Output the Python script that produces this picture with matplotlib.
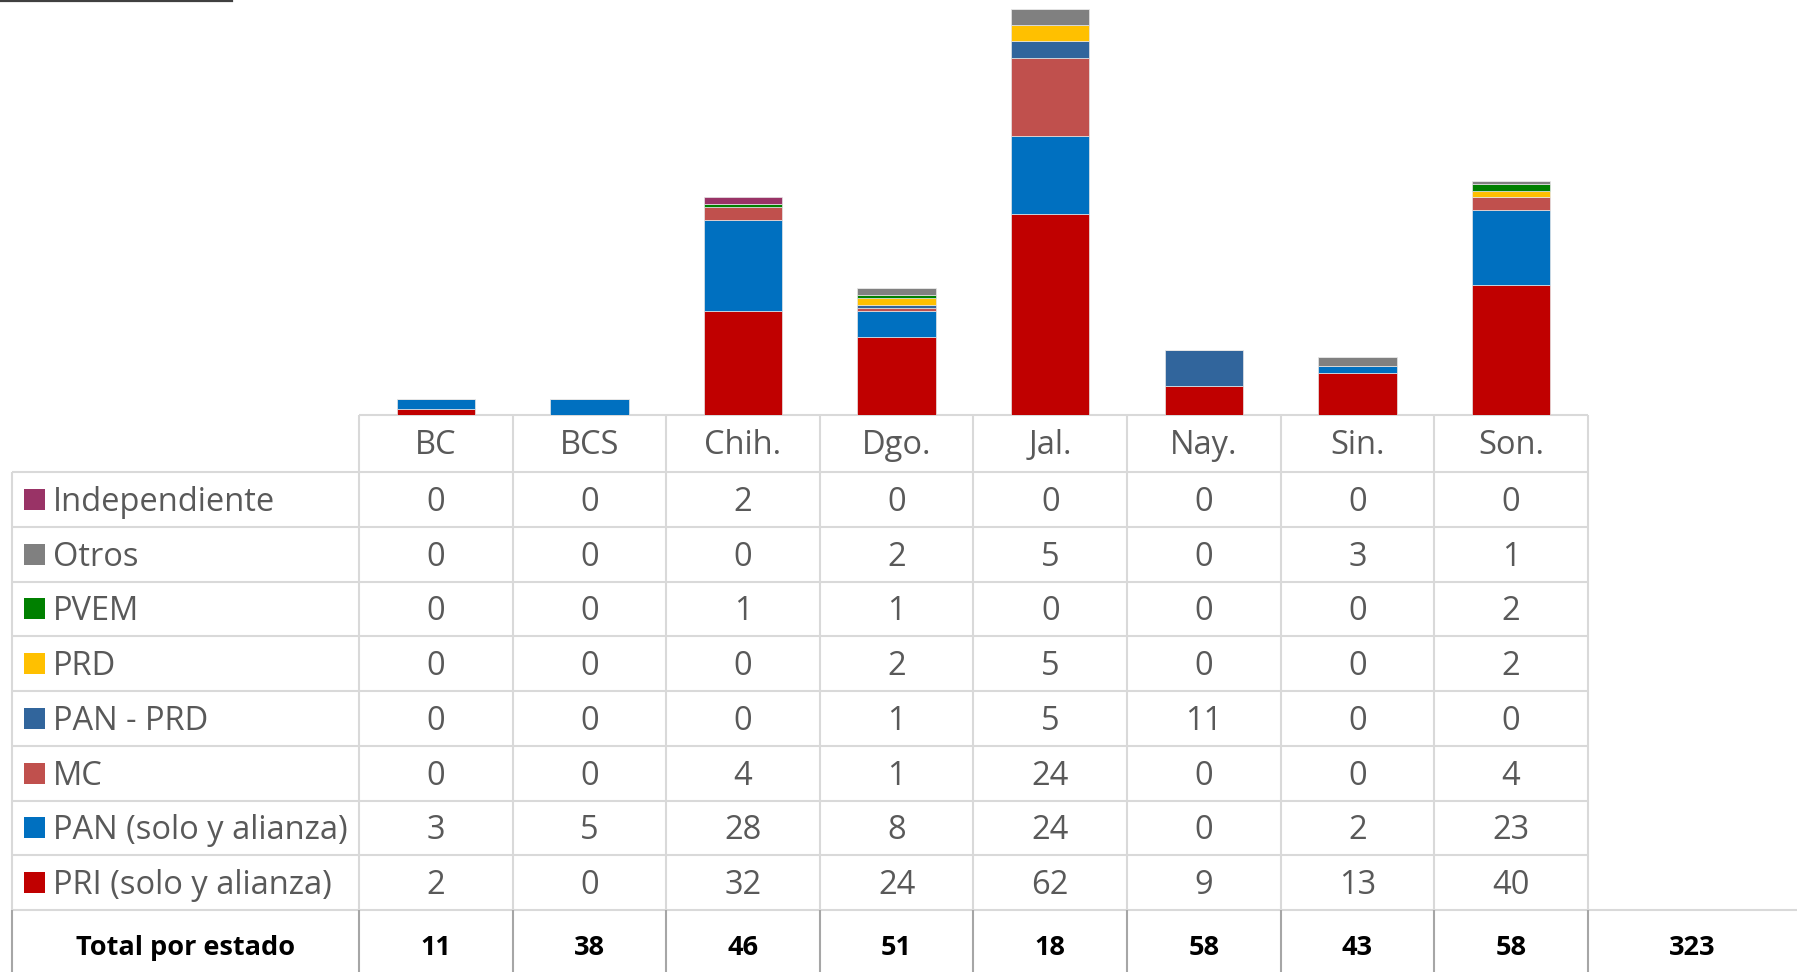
import matplotlib
matplotlib.use("Agg")
import matplotlib.pyplot as plt
import numpy as np

# ── data ──────────────────────────────────────────────────────────────────────
states = ["BC", "BCS", "Chih.", "Dgo.", "Jal.", "Nay.", "Sin.", "Son."]

# series in stacking order (bottom → top)
series = ["PRI (solo y alianza)", "PAN (solo y alianza)", "MC", "PAN - PRD",
          "PRD", "PVEM", "Otros", "Independiente"]
pri    = [2, 0, 32, 24, 62, 9, 13, 40]
pan    = [3, 5, 28, 8, 24, 0, 2, 23]
mc     = [0, 0, 4, 1, 24, 0, 0, 4]
panprd = [0, 0, 0, 1, 5, 11, 0, 0]
prd    = [0, 0, 0, 2, 5, 0, 0, 2]
pvem   = [0, 0, 1, 1, 0, 0, 0, 2]
otros  = [0, 0, 0, 2, 5, 0, 3, 1]
indep  = [0, 0, 2, 0, 0, 0, 0, 0]
values = [pri, pan, mc, panprd, prd, pvem, otros, indep]

totals = [11, 38, 46, 51, 18, 58, 43, 58]
grand_total = 323

colors = ["#C00000", "#0070C0", "#C0504D", "#31659C",
          "#FFC000", "#008000", "#808080", "#993366"]

# ── layout (pixels) ──────────────────────────────────────────────────────────
W, H = 1797, 972
base_y = 415          # bar baseline / table top
hdr_bot = 472
row_h = 54.75
lab_x0, col_x0, col_w = 11.5, 359, 153.6
n = len(states)
col_x1 = col_x0 + n * col_w
tot_top = hdr_bot + row_h * len(series)

GRID = "#D9D9D9"
TXT = "#595959"
FONT = "Open Sans"
FS = 23.5
FS_TOT = 19.5

fig = plt.figure(figsize=(W / 100, H / 100), dpi=100)
fig.patch.set_facecolor("white")

# ── bars ─────────────────────────────────────────────────────────────────────
ax = fig.add_axes([col_x0 / W, 1 - base_y / H, (col_x1 - col_x0) / W, base_y / H])
x = np.arange(n)
bottom = np.zeros(n)
for vals, c in zip(values, colors):
    ax.bar(x, vals, 0.51, bottom=bottom, color=c, edgecolor="#E6E6E6", linewidth=0.5)
    bottom += np.array(vals)
ax.set_xlim(-0.5, n - 0.5)
ax.set_ylim(0, 127.7)
ax.axis("off")

# ── table overlay ────────────────────────────────────────────────────────────
tb = fig.add_axes([0, 0, 1, 1], zorder=-1)
tb.set_xlim(0, W)
tb.set_ylim(H, 0)
tb.axis("off")

def hline(y, x0, x1, c=GRID, lw=1.5):
    tb.plot([x0, x1], [y, y], color=c, lw=lw, solid_capstyle="butt")

def vline(xv, y0, y1, c=GRID, lw=1.5):
    tb.plot([xv, xv], [y0, y1], color=c, lw=lw, solid_capstyle="butt")

col_edges = [col_x0 + i * col_w for i in range(n + 1)]

# header row
hline(base_y, col_x0, col_x1)
for xe in col_edges:
    vline(xe, base_y, tot_top)
for i, s in enumerate(states):
    tb.text(col_x0 + (i + 0.5) * col_w, (base_y + hdr_bot) / 2 + 2, s,
            ha="center", va="center", fontsize=FS, color=TXT, family=FONT)

# data rows (top → bottom: reversed stacking order)
hline(hdr_bot, lab_x0, col_x1)
vline(lab_x0, hdr_bot, tot_top)
for r, k in enumerate(range(len(series) - 1, -1, -1)):
    y0 = hdr_bot + r * row_h
    yc = y0 + row_h / 2
    hline(y0 + row_h, lab_x0, col_x1)
    tb.add_patch(plt.Rectangle((24, yc - 10.5), 21, 21, color=colors[k], lw=0))
    tb.text(53, yc + 3, series[k], ha="left", va="center", fontsize=FS,
            color=TXT, family=FONT)
    for i in range(n):
        tb.text(col_x0 + (i + 0.5) * col_w, yc + 3, str(values[k][i]),
                ha="center", va="center", fontsize=FS, color=TXT, family=FONT)

# total row
DARK = "#A6A6A6"
hline(tot_top, col_x1, W)
vline(lab_x0, tot_top, H, c=DARK)
for xe in col_edges:
    vline(xe, tot_top, H, c=DARK)
ty = 948
tb.text((lab_x0 + col_x0) / 2, ty, "Total por estado", ha="center", va="center",
        fontsize=FS_TOT, fontweight="bold", color="black", family=FONT)
for i, t in enumerate(totals):
    tb.text(col_x0 + (i + 0.5) * col_w, ty, str(t), ha="center", va="center",
            fontsize=FS_TOT, fontweight="bold", color="black", family=FONT)
tb.text((col_x1 + W) / 2, ty, str(grand_total), ha="center", va="center",
        fontsize=FS_TOT, fontweight="bold", color="black", family=FONT)

# stray rule at the top-left
tb.plot([0, 232], [0.8, 0.8], color="#404040", lw=1.6)

fig.savefig("out.png", dpi=100, facecolor="white")
